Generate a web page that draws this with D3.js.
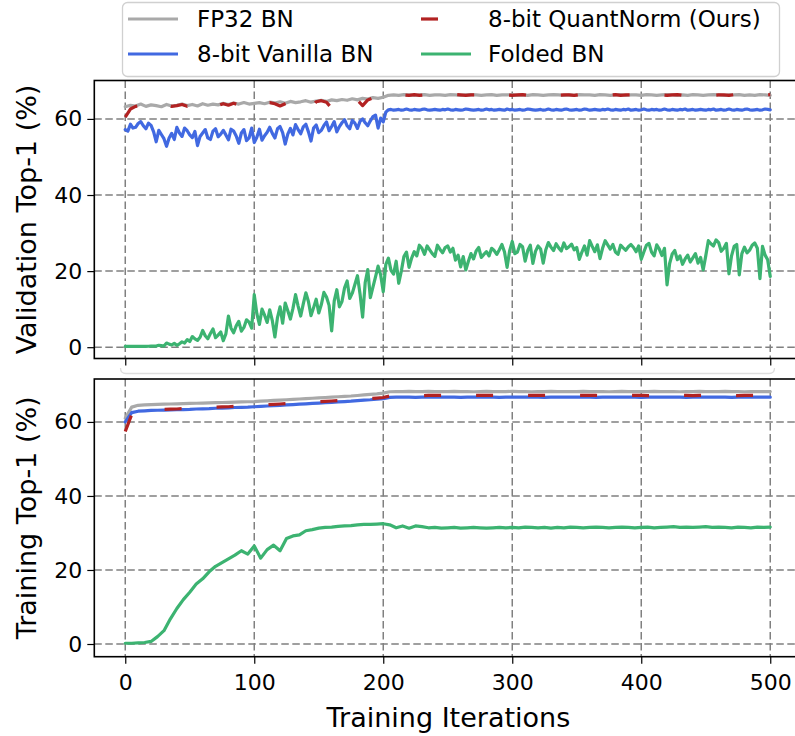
<!DOCTYPE html>
<html>
<head>
<meta charset="utf-8">
<script src="https://cdn.jsdelivr.net/npm/d3@7/dist/d3.min.js"></script>
<style>
  html, body { margin: 0; padding: 0; background: #fff; }
  svg { display: block; font-family: "DejaVu Sans", sans-serif; }
</style>
</head>
<body>
<svg id="chart" width="795" height="736"></svg>
<script>
// ---- data -------------------------------------------------------------
const seriesNames = ["FP32 BN", "8-bit Vanilla BN", "8-bit QuantNorm (Ours)", "Folded BN"];
const xTicks = [0, 100, 200, 300, 400, 500];
const yTicks = [0, 20, 40, 60];

// validation accuracy; the smoother runs are logged every 4 iterations,
// the noisier ones every 2 iterations
const valIter = d3.range(0, 501, 4);
const valIterFine = d3.range(0, 501, 2);

const valFP32 = [
  63.2, 63.6, 63.4, 63.9, 63.3, 63.7, 63.5, 63.2, 63.8, 63.4,
  63.6, 63.9, 63.5, 63.8, 63.4, 64.0, 63.6, 63.9, 63.7, 64.1,
  63.8, 64.2, 63.9, 64.3, 63.9, 64.1, 64.3, 64.0, 64.4, 64.2,
  64.5, 64.1, 64.6, 64.3, 64.5, 64.8, 64.4, 64.7, 64.9, 64.6,
  65.0, 64.8, 65.1, 64.9, 65.3, 65.0, 65.4, 65.2, 65.6, 65.4,
  65.7, 66.2, 66.3, 66.2, 66.4, 66.3, 66.2, 66.3, 66.4, 66.2,
  66.3, 66.3, 66.2, 66.4, 66.3, 66.2, 66.3, 66.4, 66.3, 66.2,
  66.3, 66.4, 66.2, 66.3, 66.3, 66.4, 66.2, 66.3, 66.2, 66.4,
  66.3, 66.2, 66.3, 66.4, 66.3, 66.2, 66.3, 66.2, 66.4, 66.3,
  66.3, 66.2, 66.4, 66.3, 66.2, 66.3, 66.4, 66.2, 66.3, 66.3,
  66.2, 66.4, 66.3, 66.2, 66.3, 66.4, 66.3, 66.2, 66.3, 66.2,
  66.4, 66.3, 66.2, 66.3, 66.4, 66.3, 66.2, 66.3, 66.3, 66.4,
  66.2, 66.3, 66.2, 66.4, 66.3, 66.2
];
const valVanilla = [
  57.2, 56.8, 58.6, 57.6, 57.8, 58.8, 59.3, 58.2, 57.4, 58.9,
  58.3, 56.6, 54.0, 57.0, 55.9, 54.8, 52.8, 55.0, 56.2, 54.6,
  57.8, 56.3, 55.4, 57.6, 56.9, 55.8, 55.1, 56.7, 53.0, 55.4,
  56.3, 57.2, 55.0, 54.6, 56.8, 57.4, 55.3, 56.0, 57.0, 55.8,
  54.5, 57.3, 56.8, 55.5, 53.6, 56.3, 57.2, 54.3, 55.0, 57.6,
  53.8, 55.2, 57.3, 54.4, 55.6, 56.5, 57.8, 56.2, 55.0, 57.4,
  58.0, 56.4, 53.4, 56.0, 57.5, 55.8, 58.5, 57.2, 56.1, 57.9,
  58.6, 56.6, 54.2, 57.6, 58.4, 56.4, 57.0, 58.3, 59.2, 56.9,
  58.0, 59.3, 56.6, 58.0, 59.0, 59.8, 58.2, 57.4, 59.6, 58.9,
  57.5, 59.4, 60.0, 59.0, 58.2, 59.5, 60.6, 61.0, 57.6, 60.2,
  59.2, 61.8,
  62.4, 62.5, 62.3, 62.4, 62.5, 62.3, 62.4, 62.6, 62.4, 62.3,
  62.5, 62.4, 62.3, 62.5, 62.6, 62.4, 62.3, 62.4, 62.5, 62.4,
  62.3, 62.5, 62.4, 62.6, 62.4, 62.3, 62.5, 62.4, 62.3, 62.4,
  62.6, 62.5, 62.4, 62.3, 62.4, 62.5, 62.3, 62.4, 62.6, 62.4,
  62.5, 62.3, 62.4, 62.5, 62.4, 62.3, 62.6, 62.4, 62.5, 62.3,
  62.4, 62.5, 62.3, 62.4, 62.6, 62.5, 62.4, 62.3, 62.4, 62.5,
  62.3, 62.4, 62.6, 62.4, 62.3, 62.5, 62.4, 62.3, 62.5, 62.6,
  62.4, 62.3, 62.4, 62.5, 62.3, 62.4, 62.6, 62.5, 62.3, 62.4,
  62.5, 62.4, 62.3, 62.5, 62.4, 62.6, 62.4, 62.3, 62.5, 62.4,
  62.3, 62.5, 62.4, 62.6, 62.3, 62.4, 62.5, 62.3, 62.4, 62.6,
  62.4, 62.3, 62.5, 62.4, 62.5, 62.3, 62.4, 62.6, 62.4, 62.3,
  62.5, 62.4, 62.3, 62.5, 62.4, 62.6, 62.3, 62.4, 62.5, 62.3,
  62.4, 62.5, 62.4, 62.3, 62.5, 62.4, 62.6, 62.3, 62.4, 62.5,
  62.3, 62.4, 62.6, 62.4, 62.3, 62.5, 62.4, 62.3, 62.5, 62.6,
  62.4, 62.3, 62.4, 62.5, 62.3, 62.4, 62.6, 62.5, 62.4
];
const valQuantNorm = [
  60.5, 62.6, 63.3, 63.5, 63.2, 63.6, 63.4, 63.0, 63.7, 63.3,
  63.5, 63.8, 63.3, 63.7, 63.2, 63.9, 63.4, 63.8, 63.5, 64.0,
  63.6, 64.1, 63.7, 64.2, 63.8, 64.0, 63.5, 64.1, 64.3, 64.0,
  63.4, 64.0, 64.5, 64.2, 64.4, 64.6, 63.0, 64.5, 64.8, 64.4,
  62.8, 64.7, 65.0, 64.8, 65.1, 64.9, 63.5, 65.0, 65.5, 65.3,
  65.6, 66.3, 66.2, 66.3, 66.3, 66.2, 66.4, 66.2, 66.3, 66.3,
  66.2, 66.3, 66.3, 66.2, 66.4, 66.3, 66.2, 66.3, 66.3, 66.2,
  66.4, 66.3, 66.2, 66.3, 66.3, 66.2, 66.3, 66.4, 66.2, 66.3,
  66.3, 66.2, 66.4, 66.3, 66.2, 66.3, 66.3, 66.2, 66.4, 66.3,
  66.2, 66.3, 66.3, 66.2, 66.3, 66.4, 66.2, 66.3, 66.3, 66.2,
  66.4, 66.3, 66.2, 66.3, 66.3, 66.2, 66.3, 66.4, 66.2, 66.3,
  66.3, 66.2, 66.4, 66.3, 66.2, 66.3, 66.3, 66.2, 66.4, 66.3,
  66.2, 66.3, 66.3, 66.2, 66.3, 66.4
];
const valFolded = [
  0.2, 0.2, 0.2, 0.2, 0.2, 0.2, 0.2, 0.2, 0.2, 0.25,
  0.3, 0.3, 0.3, 0.5, 0.4, 0.3, 1.1, 0.8, 0.6, 1.0,
  0.5, 0.9, 1.4, 1.1, 2.0, 1.5, 2.8, 2.2, 1.8, 2.6,
  4.4, 3.0, 2.2, 3.6, 4.8, 2.5, 3.2, 4.0, 1.7, 3.5,
  8.2, 5.0, 3.8, 5.6, 6.8, 4.2, 5.2, 7.2, 6.6, 5.0,
  13.8, 8.8, 6.0, 10.0, 8.4, 6.5, 9.8, 7.0, 2.7, 7.8,
  10.6, 6.3, 11.6, 9.6, 7.4, 10.2, 13.8, 10.8, 8.2, 11.4,
  14.3, 12.0, 8.3, 10.4, 12.6, 9.0, 11.2, 14.4, 13.2, 11.0,
  4.3, 12.2, 15.1, 10.6, 12.0, 15.6, 17.4, 12.8, 14.2, 16.5,
  18.8, 14.0, 7.9, 17.0, 20.4, 13.0, 15.8, 18.5, 21.3, 19.0,
  14.6, 21.8, 23.4, 20.2, 19.2, 22.6, 16.8, 20.0, 23.8, 25.0,
  21.0, 23.4, 25.1, 24.0, 26.8, 26.0, 24.4, 26.6, 25.6, 24.6,
  23.9, 26.8, 25.7, 24.8, 26.2, 26.6, 25.0, 26.0, 22.9, 24.2,
  21.1, 23.8, 20.3, 22.6, 24.6, 23.2, 25.3, 26.2, 23.6, 24.4,
  25.1, 24.0, 26.0, 25.4, 24.4, 25.6, 27.0, 25.0, 21.0, 25.4,
  27.8, 24.6, 25.0, 27.0, 26.4, 22.6, 25.4, 26.8, 22.0, 25.2,
  26.6, 25.8, 22.1, 25.6, 27.5, 26.3, 25.4, 27.2, 26.1, 25.3,
  27.4, 25.9, 26.4, 27.1, 25.6, 26.2, 23.1, 25.0, 26.6, 24.2,
  28.0, 26.5, 25.1, 26.9, 23.3, 26.0, 28.0, 26.9, 25.8, 27.0,
  25.0, 24.4, 26.8, 26.1, 25.5, 26.4, 27.0, 26.2, 25.1, 26.6,
  23.1, 25.0, 26.8, 27.3, 25.0, 24.0, 26.9, 25.8, 24.1, 26.0,
  16.4, 22.0, 24.5, 25.4, 23.0, 24.0, 21.8, 23.2, 24.2, 22.4,
  23.5, 24.6, 22.1, 23.6, 20.3, 24.0, 28.0, 27.2, 26.6, 28.2,
  27.5, 25.2, 26.0, 27.3, 19.3, 24.0, 26.5, 27.0, 19.0, 24.6,
  26.3, 24.8, 25.5, 26.8, 27.4, 26.0, 18.0, 26.5, 24.2, 23.0,
  18.6
];

// training accuracy, logged every 5 iterations (0 … 500)
const trainIter = d3.range(0, 501, 5);
const trainFP32 = [
  61.0, 64.0, 64.5, 64.6, 64.7, 64.75, 64.8, 64.85, 64.9, 64.95,
  65.0, 65.05, 65.1, 65.15, 65.2, 65.25, 65.3, 65.35, 65.4, 65.45,
  65.5, 65.6, 65.7, 65.8, 65.9, 66.0, 66.1, 66.2, 66.3, 66.4,
  66.5, 66.6, 66.7, 66.8, 66.9, 67.0, 67.15, 67.3, 67.45, 67.6,
  67.8, 68.15, 68.2, 68.2, 68.25, 68.2, 68.2, 68.25, 68.2, 68.2,
  68.2, 68.25, 68.2, 68.2, 68.15, 68.2, 68.25, 68.2, 68.2, 68.2,
  68.25, 68.2, 68.2, 68.15, 68.2, 68.2, 68.25, 68.2, 68.2, 68.2,
  68.2, 68.25, 68.2, 68.2, 68.2, 68.15, 68.2, 68.25, 68.2, 68.2,
  68.2, 68.2, 68.25, 68.2, 68.2, 68.2, 68.15, 68.2, 68.2, 68.25,
  68.2, 68.2, 68.2, 68.25, 68.2, 68.2, 68.15, 68.2, 68.2, 68.2,
  68.2
];
const trainVanilla = [
  60.0, 62.5, 62.9, 63.0, 63.1, 63.15, 63.2, 63.25, 63.3, 63.35,
  63.4, 63.5, 63.55, 63.6, 63.7, 63.75, 63.8, 63.9, 63.95, 64.0,
  64.1, 64.2, 64.3, 64.4, 64.5, 64.6, 64.7, 64.8, 64.9, 65.0,
  65.1, 65.2, 65.3, 65.4, 65.5, 65.6, 65.75, 65.9, 66.0, 66.15,
  66.3, 66.65, 66.7, 66.7, 66.7, 66.65, 66.7, 66.7, 66.7, 66.7,
  66.7, 66.7, 66.65, 66.7, 66.7, 66.7, 66.7, 66.7, 66.65, 66.7,
  66.7, 66.7, 66.7, 66.7, 66.7, 66.65, 66.7, 66.7, 66.7, 66.7,
  66.7, 66.7, 66.7, 66.65, 66.7, 66.7, 66.7, 66.7, 66.7, 66.7,
  66.65, 66.7, 66.7, 66.7, 66.7, 66.7, 66.7, 66.65, 66.7, 66.7,
  66.7, 66.7, 66.7, 66.7, 66.65, 66.7, 66.7, 66.7, 66.7, 66.7,
  66.7
];
const trainQuantNorm = [
  57.4, 62.0, 62.9, 63.1, 63.25, 63.3, 63.4, 63.45, 63.5, 63.6,
  63.7, 63.8, 63.85, 63.9, 64.0, 64.05, 64.1, 64.2, 64.3, 64.4,
  64.45, 64.55, 64.65, 64.75, 64.85, 64.95, 65.05, 65.15, 65.25, 65.35,
  65.45, 65.55, 65.65, 65.75, 65.85, 65.95, 66.05, 66.2, 66.3, 66.45,
  66.6, 67.0, 67.1, 67.15, 67.15, 67.15, 67.1, 67.15, 67.15, 67.15,
  67.15, 67.15, 67.15, 67.1, 67.15, 67.15, 67.15, 67.15, 67.15, 67.15,
  67.1, 67.15, 67.15, 67.15, 67.15, 67.15, 67.15, 67.1, 67.15, 67.15,
  67.15, 67.15, 67.15, 67.15, 67.1, 67.15, 67.15, 67.15, 67.15, 67.15,
  67.15, 67.1, 67.15, 67.15, 67.15, 67.15, 67.15, 67.15, 67.1, 67.15,
  67.15, 67.15, 67.15, 67.15, 67.15, 67.1, 67.15, 67.15, 67.15, 67.15,
  67.15
];
const trainFolded = [
  0.2, 0.2, 0.3, 0.4, 0.7, 2.0, 3.6, 6.8, 9.6, 12.0,
  14.0, 16.2, 17.6, 19.5, 21.0, 22.0, 23.0, 24.0, 25.2, 24.3,
  26.5, 23.2, 25.5, 26.7, 25.2, 28.5, 29.2, 29.5, 30.6, 30.9,
  31.3, 31.5, 31.6, 31.8, 31.9, 32.0, 32.2, 32.3, 32.3, 32.4,
  32.5, 32.2, 31.4, 31.9, 31.3, 31.9, 31.7, 31.4, 31.5, 31.3,
  31.4, 31.5, 31.3, 31.4, 31.5, 31.4, 31.3, 31.4, 31.5, 31.4,
  31.5, 31.4, 31.6, 31.5, 31.4, 31.5, 31.3, 31.5, 31.4, 31.6,
  31.5, 31.4, 31.5, 31.6, 31.5, 31.4, 31.5, 31.6, 31.5, 31.4,
  31.5, 31.6, 31.4, 31.5, 31.6, 31.7, 31.5, 31.6, 31.5, 31.6,
  31.7, 31.5, 31.6, 31.5, 31.4, 31.6, 31.5, 31.4, 31.6, 31.5,
  31.6
];

// ---- styling ----------------------------------------------------------
const colors = ["#a9a9a9", "#4169e1", "#b22222", "#3cb371"];
const dashes = [null, null, "17,35", null];
const LW = 3.2;
const tickFont = 22;
const labelFont = 27;

const svg = d3.select("#chart");

const x = d3.scaleLinear().domain([-24, 525]).range([94.3, 802.5]);

const panels = [
  { id: "val", top: 80.5, bottom: 358.5, domain: [-2.97, 70.1],
    label: "Validation Top-1 (%)",
    iters: [valIter, valIterFine, valIter, valIterFine],
    series: [valFP32, valVanilla, valQuantNorm, valFolded], xLabels: false },
  { id: "train", top: 379, bottom: 656.7, domain: [-3.43, 71.6],
    label: "Training Top-1 (%)",
    iters: [trainIter, trainIter, trainIter, trainIter],
    series: [trainFP32, trainVanilla, trainQuantNorm, trainFolded], xLabels: true }
];

const defs = svg.append("defs");

// faint lower edge of a second legend frame tucked under the upper axes
svg.append("path")
  .attr("d", "M120.5,368 Q120.5,373.5 126,373.5 H769 Q774.5,373.5 774.5,368")
  .attr("fill", "none")
  .attr("stroke", "#dedede")
  .attr("stroke-width", 1.3);

panels.forEach(p => {
  const y = d3.scaleLinear().domain(p.domain).range([p.bottom, p.top]);
  const left = x.range()[0], right = x.range()[1];
  const g = svg.append("g");

  g.append("rect")
    .attr("x", left).attr("y", p.top)
    .attr("width", right - left).attr("height", p.bottom - p.top)
    .attr("fill", "#fff");

  defs.append("clipPath").attr("id", "clip-" + p.id)
    .append("rect")
    .attr("x", left).attr("y", p.top)
    .attr("width", right - left).attr("height", p.bottom - p.top);

  // dashed grid
  const grid = g.append("g")
    .attr("stroke", "#808080").attr("stroke-width", 1.5)
    .attr("stroke-dasharray", "7.5,3.5").attr("fill", "none");
  grid.selectAll(".gx").data(xTicks).join("line")
    .attr("x1", d => x(d)).attr("x2", d => x(d))
    .attr("y1", p.top).attr("y2", p.bottom);
  grid.selectAll(".gy").data(yTicks).join("line")
    .attr("x1", left).attr("x2", right)
    .attr("y1", d => y(d)).attr("y2", d => y(d));

  // curves
  const line = d3.line().x(d => x(d[0])).y(d => y(d[1]));
  const lines = g.append("g").attr("clip-path", `url(#clip-${p.id})`);
  p.series.forEach((vals, i) => {
    lines.append("path")
      .datum(d3.zip(p.iters[i], vals))
      .attr("d", line)
      .attr("fill", "none")
      .attr("stroke", colors[i])
      .attr("stroke-width", LW)
      .attr("stroke-linejoin", "round")
      .attr("stroke-linecap", dashes[i] ? "butt" : "round")
      .attr("stroke-dasharray", dashes[i]);
  });

  // frame
  g.append("rect")
    .attr("x", left).attr("y", p.top)
    .attr("width", right - left).attr("height", p.bottom - p.top)
    .attr("fill", "none").attr("stroke", "#000").attr("stroke-width", 1.6);

  // axes
  const yAxis = d3.axisLeft(y).tickValues(yTicks).tickSize(7).tickPadding(5);
  const ya = g.append("g").attr("transform", `translate(${left},0)`).call(yAxis);
  const xAxis = d3.axisBottom(x).tickValues(xTicks).tickSize(7).tickPadding(11);
  if (!p.xLabels) xAxis.tickFormat("");
  const xa = g.append("g").attr("transform", `translate(0,${p.bottom})`).call(xAxis);
  [ya, xa].forEach(a => {
    a.select(".domain").remove();
    a.selectAll(".tick line").attr("stroke", "#000").attr("stroke-width", 1.2);
    a.selectAll(".tick text")
      .attr("fill", "#000")
      .style("font-family", '"DejaVu Sans", sans-serif')
      .style("font-size", tickFont + "px");
  });

  // y label
  g.append("text")
    .attr("transform", `translate(36,${(p.top + p.bottom) / 2}) rotate(-90)`)
    .attr("text-anchor", "middle")
    .style("font-size", labelFont + "px")
    .text(p.label);
});

// x label
svg.append("text")
  .attr("x", (x.range()[0] + x.range()[1]) / 2)
  .attr("y", 727)
  .attr("text-anchor", "middle")
  .style("font-size", labelFont + "px")
  .text("Training Iterations");

// legend
const lg = svg.append("g");
lg.append("rect")
  .attr("x", 122.5).attr("y", 2.5).attr("width", 657).attr("height", 74)
  .attr("rx", 5).attr("fill", "#fff").attr("fill-opacity", 0.8)
  .attr("stroke", "#d0d0d0").attr("stroke-width", 1.3);
const legendPos = [
  { hx: 128, tx: 197, y: 19 },
  { hx: 128, tx: 197, y: 54 },
  { hx: 421, tx: 488, y: 19 },
  { hx: 421, tx: 488, y: 54 }
];
seriesNames.forEach((name, i) => {
  const pos = legendPos[i];
  lg.append("line")
    .attr("x1", pos.hx).attr("x2", pos.hx + 50)
    .attr("y1", pos.y).attr("y2", pos.y)
    .attr("stroke", colors[i]).attr("stroke-width", LW)
    .attr("stroke-dasharray", dashes[i]);
  lg.append("text")
    .attr("x", pos.tx).attr("y", pos.y)
    .attr("dy", "0.36em")
    .style("font-size", "23px")
    .text(name);
});
</script>
</body>
</html>
